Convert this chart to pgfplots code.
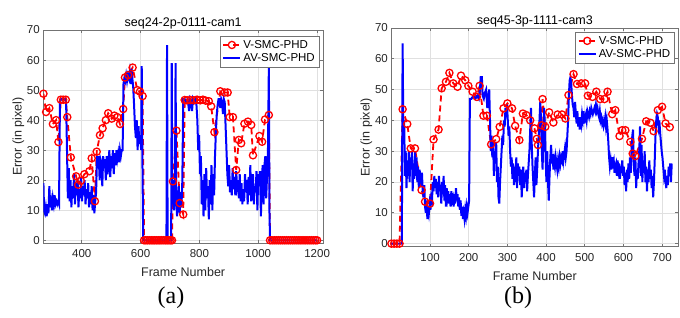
\documentclass[border=0pt]{standalone}
\usepackage{fontspec}
\setmainfont{Liberation Sans}
\newfontfamily\seriffont{Liberation Serif}
\usepackage{pgfplots}
\pgfplotsset{compat=1.18}
\definecolor{mred}{RGB}{255,0,0}
\definecolor{mblue}{RGB}{0,0,255}
\pgfplotsset{
  mystyle/.style={
    scale only axis,
    ymin=-1, ymax=70,
    ytick={0,10,...,70},
    grid=major,
    major grid style={black!12, line width=0.5pt},
    axis line style={black!55, line width=0.6pt},
    tick style={black!55, line width=0.6pt},
    tick align=inside,
    major tick length=3pt,
    tick label style={font=\fontsize{11.5}{13}\selectfont, text=black!85},
    xticklabel style={yshift=-3pt},
    /pgf/number format/assume math mode=true,
    /pgf/number format/1000 sep={},
    label style={font=\fontsize{12.5}{14}\selectfont, text=black!85},
    title style={font=\fontsize{12.5}{14}\selectfont, yshift=-9pt},
    ylabel={Error (in pixel)},
    xlabel={Frame Number},
    xlabel style={yshift=-3pt},
    ylabel style={yshift=-4pt},
    legend cell align=left,
    legend style={font=\fontsize{11.5}{13}\selectfont, draw=black!55,
      inner sep=2pt, row sep=0pt, anchor=north east},
  },
  vline/.style={mred, dashed, dash pattern=on 6pt off 4pt, line width=1.8pt,
     mark=o, mark size=3.6pt, mark options={solid, line width=1.3pt, fill=none}},
  aline/.style={mblue, line width=2pt, no marks},
}
\begin{document}
\begin{tikzpicture}
\useasboundingbox (0pt,0pt) rectangle (680pt,318pt);
\begin{axis}[mystyle,
  at={(43.3pt,74.7pt)}, anchor=south west, width=279.7pt, height=213.3pt,
  xmin=269.5, xmax=1220, xtick={400,600,...,1200},
  title={seq24-2p-0111-cam1},
  legend style={at={(1,1)}, xshift=-4pt, yshift=-6pt}]
\addplot[vline] coordinates {
(270,48.8)(279,42.7)(290,44.0)(302,38.7)(313,40.0)(321,32.7)(329,46.8)(337,46.8)(346,46.8)
(351,41.0)(363,27.6)(381,21.3)(388,18.5)(397,19.8)(409,22.0)(426,23.0)(434,27.3)(445,13.0)
(451,29.5)(462,35.0)(471,37.3)(482,40.0)(490,42.3)(502,40.5)(511,41.5)(521,41.0)(530,38.7)
(541,43.7)(547,54.2)(558,55.0)(573,57.5)(589,50.0)(598,49.5)(607,48.0)
(612,0)(618,0)(624,0)(630,0)(636,0)(642,0)(648,0)(654,0)(660,0)(666,0)(672,0)(678,0)(684,0)
(690,0)(696,0)(702,0)(707,0)
(710,19.6)(722,36.5)(733,12.4)(745,8.6)
(750,46.7)(758,46.6)(769,46.7)(781,46.6)(792,46.8)(803,46.6)(812,46.8)(821,46.5)(832,46.3)
(840,44.6)(851,36.0)(871,49.6)(886,49.2)(896,49.2)(903,41.0)(914,41.0)(925,23.4)(934,33.4)
(942,32.3)(953,38.8)(965,39.5)(976,38.4)(982,28.3)(1004,34.7)(1013,32.8)(1023,40.2)(1036,41.7)
(1040,0)(1047,0)(1054,0)(1061,0)(1068,0)(1075,0)(1082,0)(1089,0)(1096,0)(1103,0)(1110,0)
(1117,0)(1124,0)(1131,0)(1138,0)(1145,0)(1152,0)(1159,0)(1166,0)(1173,0)(1180,0)(1187,0)
(1194,0)(1200,0)
};
\addlegendentry{V-SMC-PHD}
\addplot[aline] coordinates {
(270,19)(272,10)(275,9)(278,11)(281,8)(284,12)(287,9)(290,18)(293,11)(296,13)(299,10)
(302,14)(305,12)(308,15)(311,12)(314,13)(317,12)(320,13)(323,12)(326,46)(330,47)(335,47)
(340,47)(344,47)(347,46)(350,30)(353,14)(356,24)(359,13)(362,20)(365,11)(368,18)(371,14)
(374,22)(377,12)(380,19)(383,15)(386,20)(389,11)(392,17)(395,14)(398,21)(401,13)(404,18)
(407,15)(410,20)(413,12)(416,17)(419,14)(422,19)(425,11)(428,16)(431,12)(434,18)(437,10)
(440,15)(443,9)(446,13)(449,16)(452,28)(455,24)(458,28)(461,20)(464,27)(467,26)(470,18)
(473,28)(476,24)(479,27)(482,20)(485,28)(488,22)(491,26)(494,30)(497,21)(500,28)(503,24)
(506,30)(509,22)(512,29)(515,25)(518,30)(521,27)(524,29)(527,26)(530,30)(533,28)(536,30)
(539,30)(542,52)(545,54)(548,53)(551,55)(554,53)(557,55)(560,54)(563,56)(566,52)(569,57)
(572,54)(575,51)(578,45)(581,38)(584,34)(587,40)(590,30)(593,38)(596,32)(599,35)(602,30)
(604,58)(606,30)(609,0)(688,0)(690,65)(692,0)(704,0)(706,59)(708,12)(711,20)(714,10)
(717,18)(719,59)(721,15)(724,8)(727,14)(730,18)(733,9)(736,16)(739,11)(742,20)(745,47)
(750,47)(755,46)(760,47)(765,43)(768,47)(772,46)(775,43)(778,47)(782,46)(786,47)(790,45)
(793,40)(796,30)(799,35)(802,22)(805,28)(808,12)(811,20)(814,8)(817,22)(820,10)(823,24)
(826,14)(829,18)(832,7)(835,20)(838,12)(841,25)(844,10)(847,22)(850,15)(853,28)(856,36)
(859,42)(862,45)(865,47)(868,47)(871,44)(874,47)(877,46)(880,42)(883,47)(886,46)(889,38)
(892,30)(895,22)(898,18)(901,25)(904,16)(907,20)(910,15)(913,24)(916,17)(919,21)(922,15)
(925,23)(928,18)(931,20)(934,14)(937,22)(940,13)(943,19)(946,12)(949,17)(952,13)(955,22)
(958,16)(961,20)(964,12)(967,21)(970,15)(973,25)(976,13)(979,20)(982,22)(985,12)(988,18)
(991,16)(994,23)(997,10)(1000,22)(1003,18)(1006,23)(1009,8)(1012,20)(1015,25)(1018,12)
(1021,25)(1024,28)(1027,14)(1030,22)(1033,30)(1036,58)(1038,10)(1040,0)(1200,0)
};
\addlegendentry{AV-SMC-PHD}
\end{axis}
\begin{axis}[mystyle,
  at={(391.4pt,71.3pt)}, anchor=south west, width=286.9pt, height=218.8pt,
  xmin=0, xmax=742, xtick={100,200,...,700},
  title={seq45-3p-1111-cam3},
  legend style={at={(1,1)}, xshift=-4pt, yshift=-4pt}]
\addplot[vline] coordinates {
(0,0)(7,0)(14,0)(21,0)(29,43.6)(41,38.8)(50,30.9)(61,30.9)(78,17.4)(87,13.6)(100,13)(109,33.8)
(122,37)(130,50.4)(141,52.5)(150,55.4)(160,52)(171,50.9)(180,54.5)(191,53)(199,51.2)(210,49.3)
(221,47.6)(228,51.2)(238,41.5)(247,41.5)(258,32.2)(271,33.9)(280,37.9)(290,43.9)(300,45.5)
(312,43.9)(320,38.2)(331,33.6)(340,42.2)(349,41.7)(359,40)(370,37.4)(376,34)(379,32)(388,38.4)
(391,46.9)(398,37.9)(408,42.6)(419,39.3)(430,41.9)(441,41.9)(450,40.6)(458,48.2)(471,55)
(480,51.8)(491,52)(501,52)(508,48)(520,47.6)(530,49.3)(540,46.9)(551,46.9)(559,49.3)(571,42)
(579,43.3)(590,34.9)(597,36.8)(605,36.8)(618,33)(624,29.2)(631,28.4)(648,34)(659,39.7)
(670,39.2)(678,36.5)(689,43.3)(700,44.4)(709,39)(720,37.8)
};
\addlegendentry{V-SMC-PHD}
\addplot[aline] coordinates {
(0,0)(27,0)(29,65)(31,35)(33,40)(35,22)(37,30)(39,18)(41,27)(43,22)(45,30)(47,20)(49,28)
(51,24)(53,30)(55,17)(57,26)(59,21)(61,30)(63,22)(65,28)(67,20)(69,25)(71,18)(73,24)(75,21)
(77,20)(79,23)(81,17)(83,15)(85,19)(87,12)(89,10)(91,14)(93,8)(95,12)(97,10)(99,13)(101,11)
(103,15)(105,14)(107,20)(109,17)(111,22)(113,18)(115,21)(117,16)(119,20)(121,15)(123,22)
(125,17)(127,19)(129,13)(131,20)(133,16)(135,22)(137,14)(139,19)(141,12)(143,18)(145,15)
(147,17)(149,13)(151,16)(153,12)(155,17)(157,14)(159,15)(161,12)(163,16)(165,13)(167,18)
(169,14)(171,16)(173,12)(175,15)(177,11)(179,14)(181,9)(183,12)(185,8)(187,10)(189,8)
(191,11)(193,9)(195,12)(197,10)(199,12)(201,14)(203,47)(207,47)(212,48)(217,47)(222,48)
(226,47)(229,50)(231,54)(234,54)(236,48)(239,47)(242,49)(245,50)(248,44)(251,48)(253,50)
(255,40)(257,30)(259,35)(261,28)(263,33)(265,22)(267,30)(269,26)(271,33)(273,20)(275,25)
(277,15)(279,13)(281,20)(283,25)(285,30)(287,35)(289,32)(291,40)(293,38)(295,44)(297,41)
(299,45)(301,40)(303,35)(305,38)(307,30)(309,25)(311,28)(313,21)(315,26)(317,19)(319,25)
(321,20)(323,28)(325,18)(327,26)(329,22)(331,25)(333,19)(335,24)(337,15)(339,21)(341,25)
(343,18)(345,23)(347,20)(349,24)(351,17)(353,22)(355,26)(357,30)(359,37)(361,44)(363,32)
(365,25)(367,20)(369,15)(371,22)(373,28)(375,19)(377,24)(379,30)(381,35)(383,40)(385,46)
(387,40)(389,30)(391,24)(393,35)(395,44)(397,38)(399,27)(401,20)(403,30)(405,20)(407,14)
(409,22)(411,28)(413,32)(415,26)(417,29)(419,24)(421,27)(423,25)(425,28)(427,26)(429,24)
(431,27)(433,25)(435,28)(437,26)(439,28)(441,27)(443,30)(445,27)(447,29)(449,31)(451,28)
(453,30)(455,35)(457,40)(459,48)(461,53)(463,54)(465,52)(467,48)(469,45)(471,44)(473,41)
(475,46)(477,42)(479,39)(481,43)(483,38)(485,41)(487,37)(489,41)(491,39)(493,42)(495,40)
(497,43)(499,39)(501,41)(503,42)(505,40)(507,43)(509,42)(511,41)(513,43)(515,42)(517,44)
(519,43)(521,42)(523,43)(525,44)(527,43)(529,45)(531,43)(533,44)(535,42)(537,41)(539,43)
(541,40)(543,41)(545,39)(547,40)(549,38)(551,39)(553,41)(555,38)(557,40)(559,37)(561,33)
(563,28)(565,25)(567,27)(569,24)(571,28)(573,26)(575,27)(577,23)(579,25)(581,26)(583,22)
(585,27)(587,24)(589,26)(591,21)(593,25)(595,23)(597,27)(599,22)(601,25)(603,19)(605,23)
(607,17)(609,24)(611,20)(613,26)(615,21)(617,28)(619,23)(621,30)(623,35)(625,37)(627,25)
(629,22)(631,28)(633,18)(635,24)(637,21)(639,26)(641,30)(643,38)(645,22)(647,32)(649,20)
(651,27)(653,23)(655,30)(657,20)(659,25)(661,17)(663,24)(665,20)(667,27)(669,21)(671,24)
(673,18)(675,22)(677,15)(679,20)(681,27)(683,35)(685,40)(687,42)(689,41)(691,38)(693,40)
(695,36)(697,33)(699,30)(701,28)(703,25)(705,22)(707,24)(709,20)(711,18)(713,22)(715,19)
(717,25)(719,22)(721,26)(723,20)(725,26)
};
\addlegendentry{AV-SMC-PHD}
\end{axis}
\node[font=\seriffont\fontsize{24}{26}\selectfont] at (171pt,20pt) {(a)};
\node[font=\seriffont\fontsize{24}{26}\selectfont] at (518pt,20pt) {(b)};
\end{tikzpicture}
\end{document}
